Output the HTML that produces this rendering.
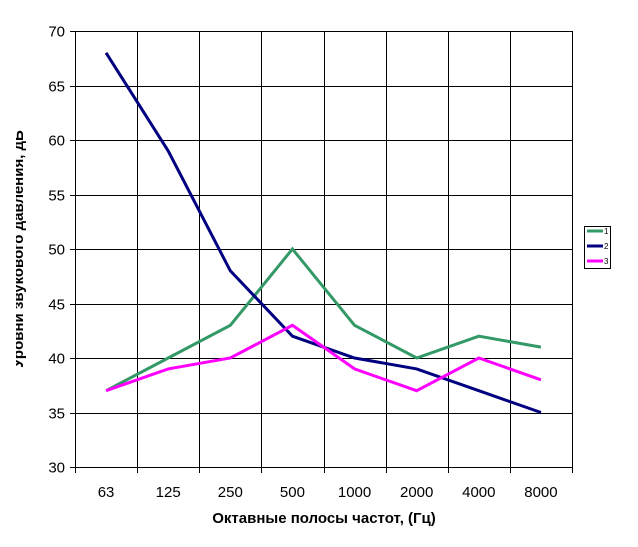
<!DOCTYPE html>
<html><head><meta charset="utf-8"><style>
body{margin:0;background:#fff;}
svg{display:block;font-family:"Liberation Sans",sans-serif;}
</style></head><body>
<svg id="chart" width="638" height="547">
<defs><clipPath id="tc"><rect x="16" y="0" width="100" height="547"/></clipPath></defs>
<g id="grid"></g>
<g id="axes"></g>
<g id="series"></g>
<text x="324" y="523" text-anchor="middle" font-size="15" font-weight="bold">Октавные полосы частот, (Гц)</text>
<g clip-path="url(#tc)"><text transform="translate(23,249) rotate(-90)" text-anchor="middle" font-size="15" font-weight="bold">Уровни звукового давления, дБ</text></g>
<g>
<rect x="584.5" y="226.5" width="26" height="42" fill="#fff" stroke="#000"/>
<g id="legend"></g>
</g>
</svg>
<script>
const categories=["63","125","250","500","1000","2000","4000","8000"];
const series1=[37,40,43,50,43,40,42,41];
const series2=[68,59,48,42,40,39,37,35];
const series3=[37,39,40,43,39,37,40,38];
const seriesNames=["1","2","3"];
const yTicks=[30,35,40,45,50,55,60,65,70];
const colors=["#339966","#000080","#ff00ff"];
const L=75,R=572,T=31,B=467,ymin=30,ymax=70;
const ns="http://www.w3.org/2000/svg";
const bw=(R-L)/categories.length;
const xs=i=>L+bw*(i+0.5);
const ys=v=>B-(v-ymin)/(ymax-ymin)*(B-T);
function mk(tag,attrs,parent){const e=document.createElementNS(ns,tag);for(const k in attrs)e.setAttribute(k,attrs[k]);parent.appendChild(e);return e;}
const grid=document.getElementById('grid'),axes=document.getElementById('axes'),ser=document.getElementById('series'),leg=document.getElementById('legend');
yTicks.forEach(v=>{const y=Math.round(ys(v))+0.5;
 const g=mk('line',{x1:L,x2:R,y1:y,y2:y,stroke:'#000','stroke-width':1},grid);
 
 
 const tk=mk('line',{x1:L-5,x2:L,y1:y,y2:y,stroke:'#000'},axes);
 
 
 const t=mk('text',{x:L-10,y:y+5,'text-anchor':'end','font-size':15},axes);t.textContent=v;
 
 
});
for(let i=0;i<=categories.length;i++){const x=Math.round(L+bw*i)+0.5;
 const g=mk('line',{x1:x,x2:x,y1:T,y2:B+6,stroke:'#000'},grid);
 
 
}
categories.forEach((c,i)=>{const t=mk('text',{x:xs(i),y:497,'text-anchor':'middle','font-size':15},axes);t.textContent=c;
 
 
});
[series1,series2,series3].forEach((s,k)=>{
 const p=mk('polyline',{points:s.map((v,i)=>xs(i)+','+ys(v)).join(' '),fill:'none',stroke:colors[k],'stroke-width':3,'stroke-linejoin':'miter'},ser);
 
 
 const y=231+k*15;
 const l=mk('line',{x1:587,x2:603,y1:y,y2:y,stroke:colors[k],'stroke-width':3},leg);
 
 
 const t=mk('text',{x:604,y:y+3,'font-size':8},leg);t.textContent=seriesNames[k];
 
 
});
</script>
</body></html>
